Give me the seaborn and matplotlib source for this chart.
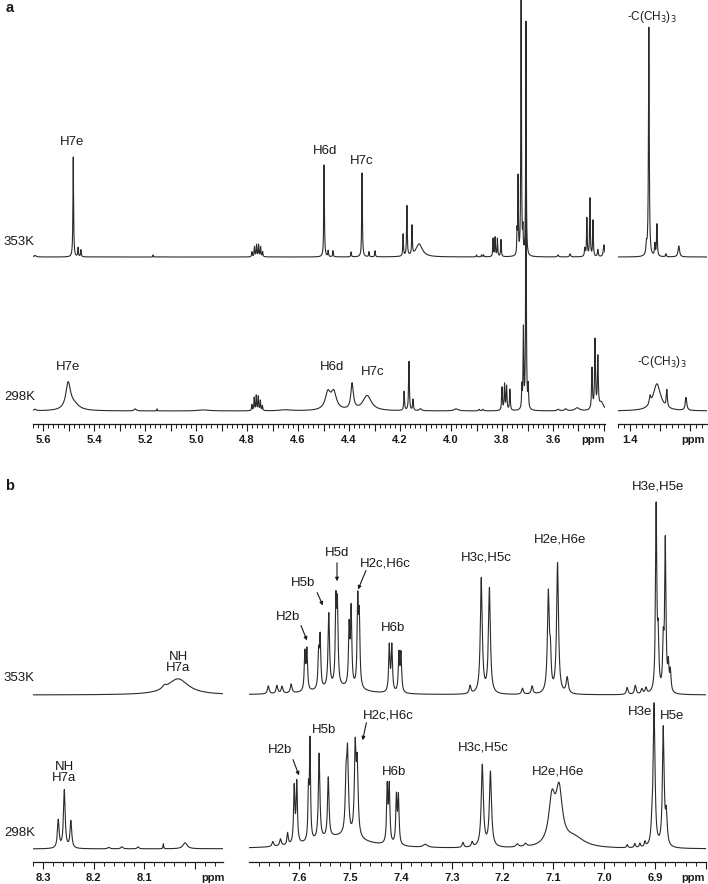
import numpy as np
import pandas as pd
import seaborn as sns
import matplotlib
matplotlib.use("Agg")
import matplotlib.pyplot as plt
from matplotlib.ticker import MultipleLocator

# ---------------- data: peak lists ----------------
# panel a, 353 K  (ppm, intensity, line width in ppm)
a353_ppm = [5.632, 5.482, 5.463, 5.452, 5.169,
            4.781, 4.771, 4.763, 4.755, 4.747, 4.739,
            4.498, 4.482, 4.463, 4.392, 4.349, 4.322, 4.298,
            4.188, 4.173, 4.153, 4.125, 3.900, 3.880, 3.872,
            3.835, 3.827, 3.818, 3.804,
            3.741, 3.737, 3.725, 3.718, 3.706,
            3.580, 3.533, 3.475, 3.467, 3.455, 3.443, 3.424, 3.400,
            1.345, 1.337, 1.317, 1.310, 1.280, 1.237]
a353_int = [1.5, 100, 9, 7, 2,
            5, 10, 12, 12, 10, 5,
            92, 6, 6, 5, 84, 5, 6,
            22, 50, 29, 13, 2, 2, 2,
            18, 19, 18, 17,
            22, 77, 330, 22, 234,
            2, 3, 8, 38, 58, 36, 7, 12,
            10, 229, 12, 32, 3, 11]
a353_fwhm = [0.01, 0.003, 0.003, 0.003, 0.002,
             0.003, 0.003, 0.003, 0.003, 0.003, 0.003,
             0.003, 0.003, 0.003, 0.003, 0.003, 0.003, 0.003,
             0.003, 0.003, 0.003, 0.03, 0.003, 0.003, 0.003,
             0.003, 0.003, 0.003, 0.003,
             0.0025, 0.0025, 0.0025, 0.0025, 0.0025,
             0.005, 0.005, 0.004, 0.003, 0.003, 0.003, 0.004, 0.006,
             0.004, 0.003, 0.003, 0.003, 0.003, 0.006]

# panel a, 298 K
a298_ppm = [5.632, 5.502, 5.480, 5.239, 5.153, 4.970,
            4.781, 4.772, 4.764, 4.756, 4.748, 4.740, 4.650,
            4.483, 4.460, 4.388, 4.329,
            4.184, 4.165, 4.149, 4.120, 3.980, 3.890, 3.875,
            3.800, 3.790, 3.782, 3.769,
            3.722, 3.716, 3.706, 3.697,
            3.580, 3.550, 3.505, 3.447, 3.435, 3.424, 3.410,
            1.333, 1.310, 1.277, 1.213]
a298_int = [1.5, 26, 6, 2, 2, 1,
            6, 13, 15, 14, 10, 5, 1,
            17, 17, 26, 15,
            19, 49, 11, 2, 2, 1.5, 1.5,
            23, 26, 24, 21,
            22, 79, 250, 22,
            1.5, 2, 3, 41, 69, 51, 8,
            8, 27, 17, 13]
a298_fwhm = [0.01, 0.022, 0.05, 0.01, 0.002, 0.05,
             0.003, 0.003, 0.003, 0.003, 0.003, 0.003, 0.05,
             0.025, 0.025, 0.012, 0.04,
             0.0035, 0.0035, 0.0035, 0.01, 0.02, 0.005, 0.005,
             0.0035, 0.0035, 0.0035, 0.0035,
             0.003, 0.003, 0.003, 0.003,
             0.01, 0.01, 0.02, 0.004, 0.004, 0.004, 0.02,
             0.006, 0.03, 0.004, 0.006]

# panel b, 353 K
b353_ppm = [8.060, 8.033,
            7.661, 7.644, 7.634, 7.616,
            7.589, 7.585, 7.562, 7.559, 7.542, 7.528, 7.525,
            7.502, 7.498, 7.485, 7.482, 7.520,
            7.423, 7.418, 7.404, 7.400,
            7.264, 7.242, 7.226, 7.161, 7.142,
            7.110, 7.106, 7.092, 7.073,
            6.955, 6.939, 6.926, 6.918,
            6.898, 6.894, 6.884, 6.880, 6.874, 6.870]
b353_int = [3, 16,
            8, 8, 7, 9,
            38, 40, 34, 50, 74, 80, 76,
            58, 76, 84, 66, 7,
            46, 46, 38, 38,
            8, 115, 105, 6, 8,
            100, 30, 130, 16,
            7, 9, 5, 6,
            185, 50, 45, 150, 25, 20]
b353_fwhm = [0.01, 0.05,
             0.004, 0.004, 0.004, 0.004,
             0.003, 0.003, 0.003, 0.003, 0.0035, 0.003, 0.003,
             0.003, 0.003, 0.003, 0.003, 0.1,
             0.003, 0.003, 0.003, 0.003,
             0.004, 0.0045, 0.0045, 0.004, 0.004,
             0.0045, 0.003, 0.0045, 0.005,
             0.004, 0.004, 0.004, 0.004,
             0.003, 0.003, 0.003, 0.003, 0.003, 0.003]

# panel b, 298 K
b298_ppm = [8.270, 8.258, 8.245, 8.170, 8.144, 8.112, 8.062, 8.019,
            7.652, 7.637, 7.623,
            7.610, 7.605, 7.582, 7.579, 7.561, 7.543, 7.520,
            7.508, 7.505, 7.490, 7.486,
            7.427, 7.423, 7.409, 7.405,
            7.352, 7.278, 7.260, 7.240, 7.224, 7.171, 7.155,
            7.103, 7.089, 7.060,
            6.955, 6.940, 6.930, 6.920,
            6.906, 6.902, 6.884, 6.878]
b298_int = [28, 58, 27, 1.5, 2, 2, 5, 6,
            5, 7, 12,
            56, 60, 48, 98, 86, 60, 12,
            50, 76, 86, 68,
            56, 56, 47, 47,
            3, 5, 5, 82, 75, 3, 3,
            45, 52, 10,
            3, 4, 4, 5,
            20, 140, 118, 30]
b298_fwhm = [0.004, 0.004, 0.004, 0.005, 0.005, 0.004, 0.0015, 0.01,
             0.004, 0.004, 0.003,
             0.003, 0.003, 0.0025, 0.0025, 0.0035, 0.0035, 0.12,
             0.004, 0.004, 0.004, 0.004,
             0.003, 0.003, 0.003, 0.003,
             0.01, 0.004, 0.004, 0.005, 0.005, 0.006, 0.006,
             0.015, 0.015, 0.05,
             0.003, 0.003, 0.003, 0.003,
             0.004, 0.004, 0.004, 0.004]

a_main_ticklabels = ["5.6", "5.4", "5.2", "5.0", "4.8", "4.6", "4.4", "4.2", "4.0", "3.8", "3.6"]
a_small_ticklabels = ["1.4"]
b_left_ticklabels = ["8.3", "8.2", "8.1"]
b_right_ticklabels = ["7.6", "7.5", "7.4", "7.3", "7.2", "7.1", "7.0", "6.9"]
temps = ["353K", "298K"]

# ---------------- helpers ----------------
W, H = 708, 884
sns.set_theme(style="white")
plt.rcParams["font.family"] = ["Liberation Sans", "DejaVu Sans"]
INK = "#1a1a1a"
LINE = "#2b2b2b"

fig = plt.figure(figsize=(W / 100, H / 100), dpi=100)


def add_ax(x0, x1, ytop, ybot):
    return fig.add_axes([x0 / W, 1 - ybot / H, (x1 - x0) / W, (ybot - ytop) / H])


def ftext(x, y, s, **kw):
    kw.setdefault("fontsize", 9.5)
    kw.setdefault("color", INK)
    kw.setdefault("ha", "center")
    kw.setdefault("va", "center")
    fig.text(x / W, 1 - y / H, s, **kw)


def spectrum(grid, pos, inten, fwhm):
    p = np.asarray(pos)[:, None]
    h = np.asarray(inten, float)[:, None]
    w = np.asarray(fwhm)[:, None] / 2.0
    return (h / (1.0 + ((grid[None, :] - p) / w) ** 2)).sum(axis=0)


def draw(ax, xlim, ylim, peaks_list, offsets, labels, major, minor):
    lo, hi = min(xlim), max(xlim)
    grid = np.linspace(lo, hi, 40000)
    for (pos, inten, fwhm), off in zip(peaks_list, offsets):
        y = spectrum(grid, pos, inten, fwhm) + off
        df = pd.DataFrame({"ppm": grid, "I": y})
        sns.lineplot(data=df, x="ppm", y="I", ax=ax, color=LINE, lw=0.8,
                     estimator=None, errorbar=None, sort=False)
    ax.set_xlim(*xlim)
    ax.set_ylim(*ylim)
    ax.set_xlabel("")
    ax.set_ylabel("")
    ax.set_yticks([])
    for s in ["top", "left", "right"]:
        ax.spines[s].set_visible(False)
    ax.spines["bottom"].set_color(INK)
    ax.spines["bottom"].set_linewidth(0.9)
    ax.xaxis.set_major_locator(MultipleLocator(major))
    ax.xaxis.set_minor_locator(MultipleLocator(minor))
    ticks = [t for t in ax.get_xticks() if lo - 1e-9 <= t <= hi + 1e-9]
    ax.set_xticks(ticks)
    lab = []
    for t in ticks:
        s = f"{t:.1f}"
        lab.append(s if s in labels else "")
    ax.set_xticklabels(lab)
    ax.tick_params(axis="x", which="major", direction="out", length=5, width=0.8,
                   color=INK, labelsize=8, pad=3, labelcolor=INK, bottom=True)
    ax.tick_params(axis="x", which="minor", direction="out", length=3, width=0.7,
                   color=INK, bottom=True)
    for t in ax.get_xticklabels():
        t.set_fontweight("bold")
    ax.patch.set_alpha(0)
    ax.grid(False)


OFF = [154, 0]  # vertical offsets of 353K and 298K traces

# ---------------- panel a ----------------
axa = add_ax(33, 605, 0, 424)
draw(axa, (5.64, 3.396), (-13, 411),
     [(a353_ppm, a353_int, a353_fwhm), (a298_ppm, a298_int, a298_fwhm)],
     OFF, a_main_ticklabels, 0.1, 0.02)
axa2 = add_ax(618, 707, 0, 424)
draw(axa2, (1.44, 1.143), (-13, 411),
     [(a353_ppm, a353_int, a353_fwhm), (a298_ppm, a298_int, a298_fwhm)],
     OFF, a_small_ticklabels, 0.1, 0.02)

# ---------------- panel b ----------------
axb1 = add_ax(33, 223, 470, 862)
draw(axb1, (8.32, 7.944), (-13, 379),
     [(b353_ppm, b353_int, b353_fwhm), (b298_ppm, b298_int, b298_fwhm)],
     OFF, b_left_ticklabels, 0.1, 0.02)
axb2 = add_ax(249, 706, 470, 862)
draw(axb2, (7.699, 6.80), (-13, 379),
     [(b353_ppm, b353_int, b353_fwhm), (b298_ppm, b298_int, b298_fwhm)],
     OFF, b_right_ticklabels, 0.1, 0.02)

# ---------------- texts ----------------
bold8 = dict(fontsize=8, fontweight="bold")
ftext(593, 440, "ppm", **bold8)
ftext(693, 440, "ppm", **bold8)
ftext(213, 878, "ppm", **bold8)
ftext(693, 878, "ppm", **bold8)

ftext(10, 8, "a", fontsize=10.5, fontweight="bold")
ftext(10, 486, "b", fontsize=10.5, fontweight="bold")

ftext(34, 242, temps[0], ha="right")
ftext(35, 397, temps[1], ha="right")
ftext(34, 678, temps[0], ha="right")
ftext(35, 833, temps[1], ha="right")

# panel a labels
ftext(72, 142, "H7e")
ftext(325, 151, "H6d")
ftext(362, 161, "H7c")
ftext(652, 17, r"-C(CH$_3$)$_3$", fontsize=8.5)
ftext(68, 367, "H7e")
ftext(332, 367, "H6d")
ftext(373, 372, "H7c")
ftext(662, 362, r"-C(CH$_3$)$_3$", fontsize=8.5)

# panel b labels, 353K
ftext(178, 657, "NH")
ftext(178, 668, "H7a")
ftext(288, 617, "H2b")
ftext(303, 583, "H5b")
ftext(337, 553, "H5d")
ftext(385, 563, "H2c,H6c")
ftext(393, 628, "H6b")
ftext(486, 558, "H3c,H5c")
ftext(560, 540, "H2e,H6e")
ftext(658, 486, "H3e,H5e")
# panel b labels, 298K
ftext(64, 767, "NH")
ftext(64, 778, "H7a")
ftext(280, 750, "H2b")
ftext(324, 730, "H5b")
ftext(388, 715, "H2c,H6c")
ftext(394, 772, "H6b")
ftext(483, 748, "H3c,H5c")
ftext(558, 771, "H2e,H6e")
ftext(640, 712, "H3e")
ftext(672, 716, "H5e")


def pointer(x0, y0, x1, y1):
    fig.add_artist(matplotlib.patches.FancyArrowPatch(
        (x0 / W, 1 - y0 / H), (x1 / W, 1 - y1 / H), transform=fig.transFigure,
        arrowstyle="-|>", mutation_scale=5, lw=0.8, color=INK))


pointer(300, 623, 308, 643)
pointer(316, 590, 324, 608)
pointer(337, 560, 337, 584)
pointer(367, 568, 357, 592)
pointer(292, 757, 300, 778)
pointer(367, 720, 362, 743)

fig.savefig("out.png", dpi=100)
